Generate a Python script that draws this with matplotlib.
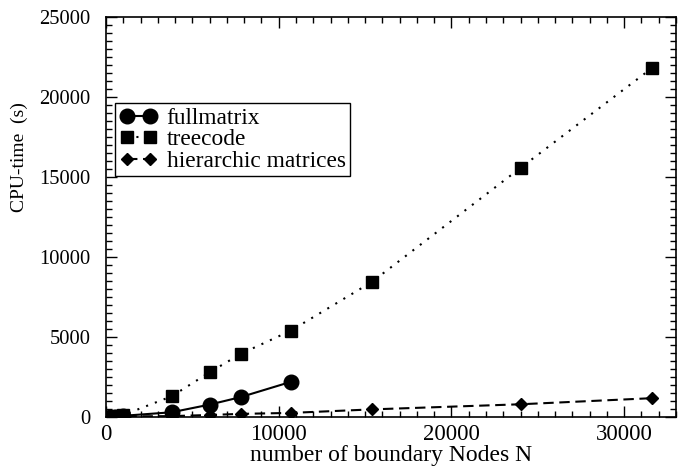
import numpy as np
import matplotlib
matplotlib.use("Agg")
import matplotlib.pyplot as plt
from matplotlib.ticker import MultipleLocator

N_full = [250, 500, 1000, 3800, 6000, 7800, 10700]
t_full = [10, 30, 80, 300, 780, 1250, 2200]

N_tree = [250, 500, 1000, 3800, 6000, 7800, 10700, 15400, 24000, 31600]
t_tree = [20, 50, 130, 1300, 2800, 3950, 5400, 8450, 15570, 21800]

N_hier = [250, 500, 1000, 3800, 6000, 7800, 10700, 15400, 24000, 31600]
t_hier = [10, 20, 40, 60, 130, 200, 260, 480, 800, 1180]

plt.rcParams['font.family'] = ['Liberation Serif', 'DejaVu Serif']

fig = plt.figure(figsize=(6.8, 4.66), dpi=100)
ax = fig.add_axes([0.156, 0.105, 0.838, 0.8585])

ax.plot(N_full, t_full, 'k-', marker='o', ms=10.5, lw=1.5, label='fullmatrix')
ax.plot(N_tree, t_tree, 'k', ls=(0, (1, 3.5)), marker='s', ms=8.8, lw=1.5, label='treecode')
ax.plot(N_hier, t_hier, 'k', ls=(0, (5, 2.7)), marker='D', ms=6.5, lw=1.5,
        label='hierarchic matrices')

ax.set_xlim(0, 33000)
ax.set_ylim(0, 25000)
ax.xaxis.set_major_locator(MultipleLocator(10000))
ax.xaxis.set_minor_locator(MultipleLocator(1000))
ax.yaxis.set_major_locator(MultipleLocator(5000))
ax.yaxis.set_minor_locator(MultipleLocator(500))

ax.tick_params(which='both', direction='in', top=True, right=True, width=1)
ax.tick_params(which='major', length=8)
ax.tick_params(which='minor', length=4.3)
ax.tick_params(axis='x', labelsize=16.5, pad=5)
ax.tick_params(axis='y', labelsize=14.8, pad=11)
for s in ax.spines.values():
    s.set_linewidth(1.2)

ax.set_xlabel('number of boundary Nodes N', fontsize=17, labelpad=0)
ax.set_ylabel('CPU-time  (s)', fontsize=14)
ax.yaxis.set_label_coords(-0.137, 0.65)

leg = ax.legend(loc='upper left', bbox_to_anchor=(0.016, 0.785), borderaxespad=0,
                fontsize=16.8, numpoints=2, handlelength=1.6, handletextpad=0.4,
                labelspacing=0.0, borderpad=0.2, fancybox=False, framealpha=1)
leg.get_frame().set_edgecolor('black')
leg.get_frame().set_linewidth(1.0)

fig.savefig('out.png', dpi=100)
